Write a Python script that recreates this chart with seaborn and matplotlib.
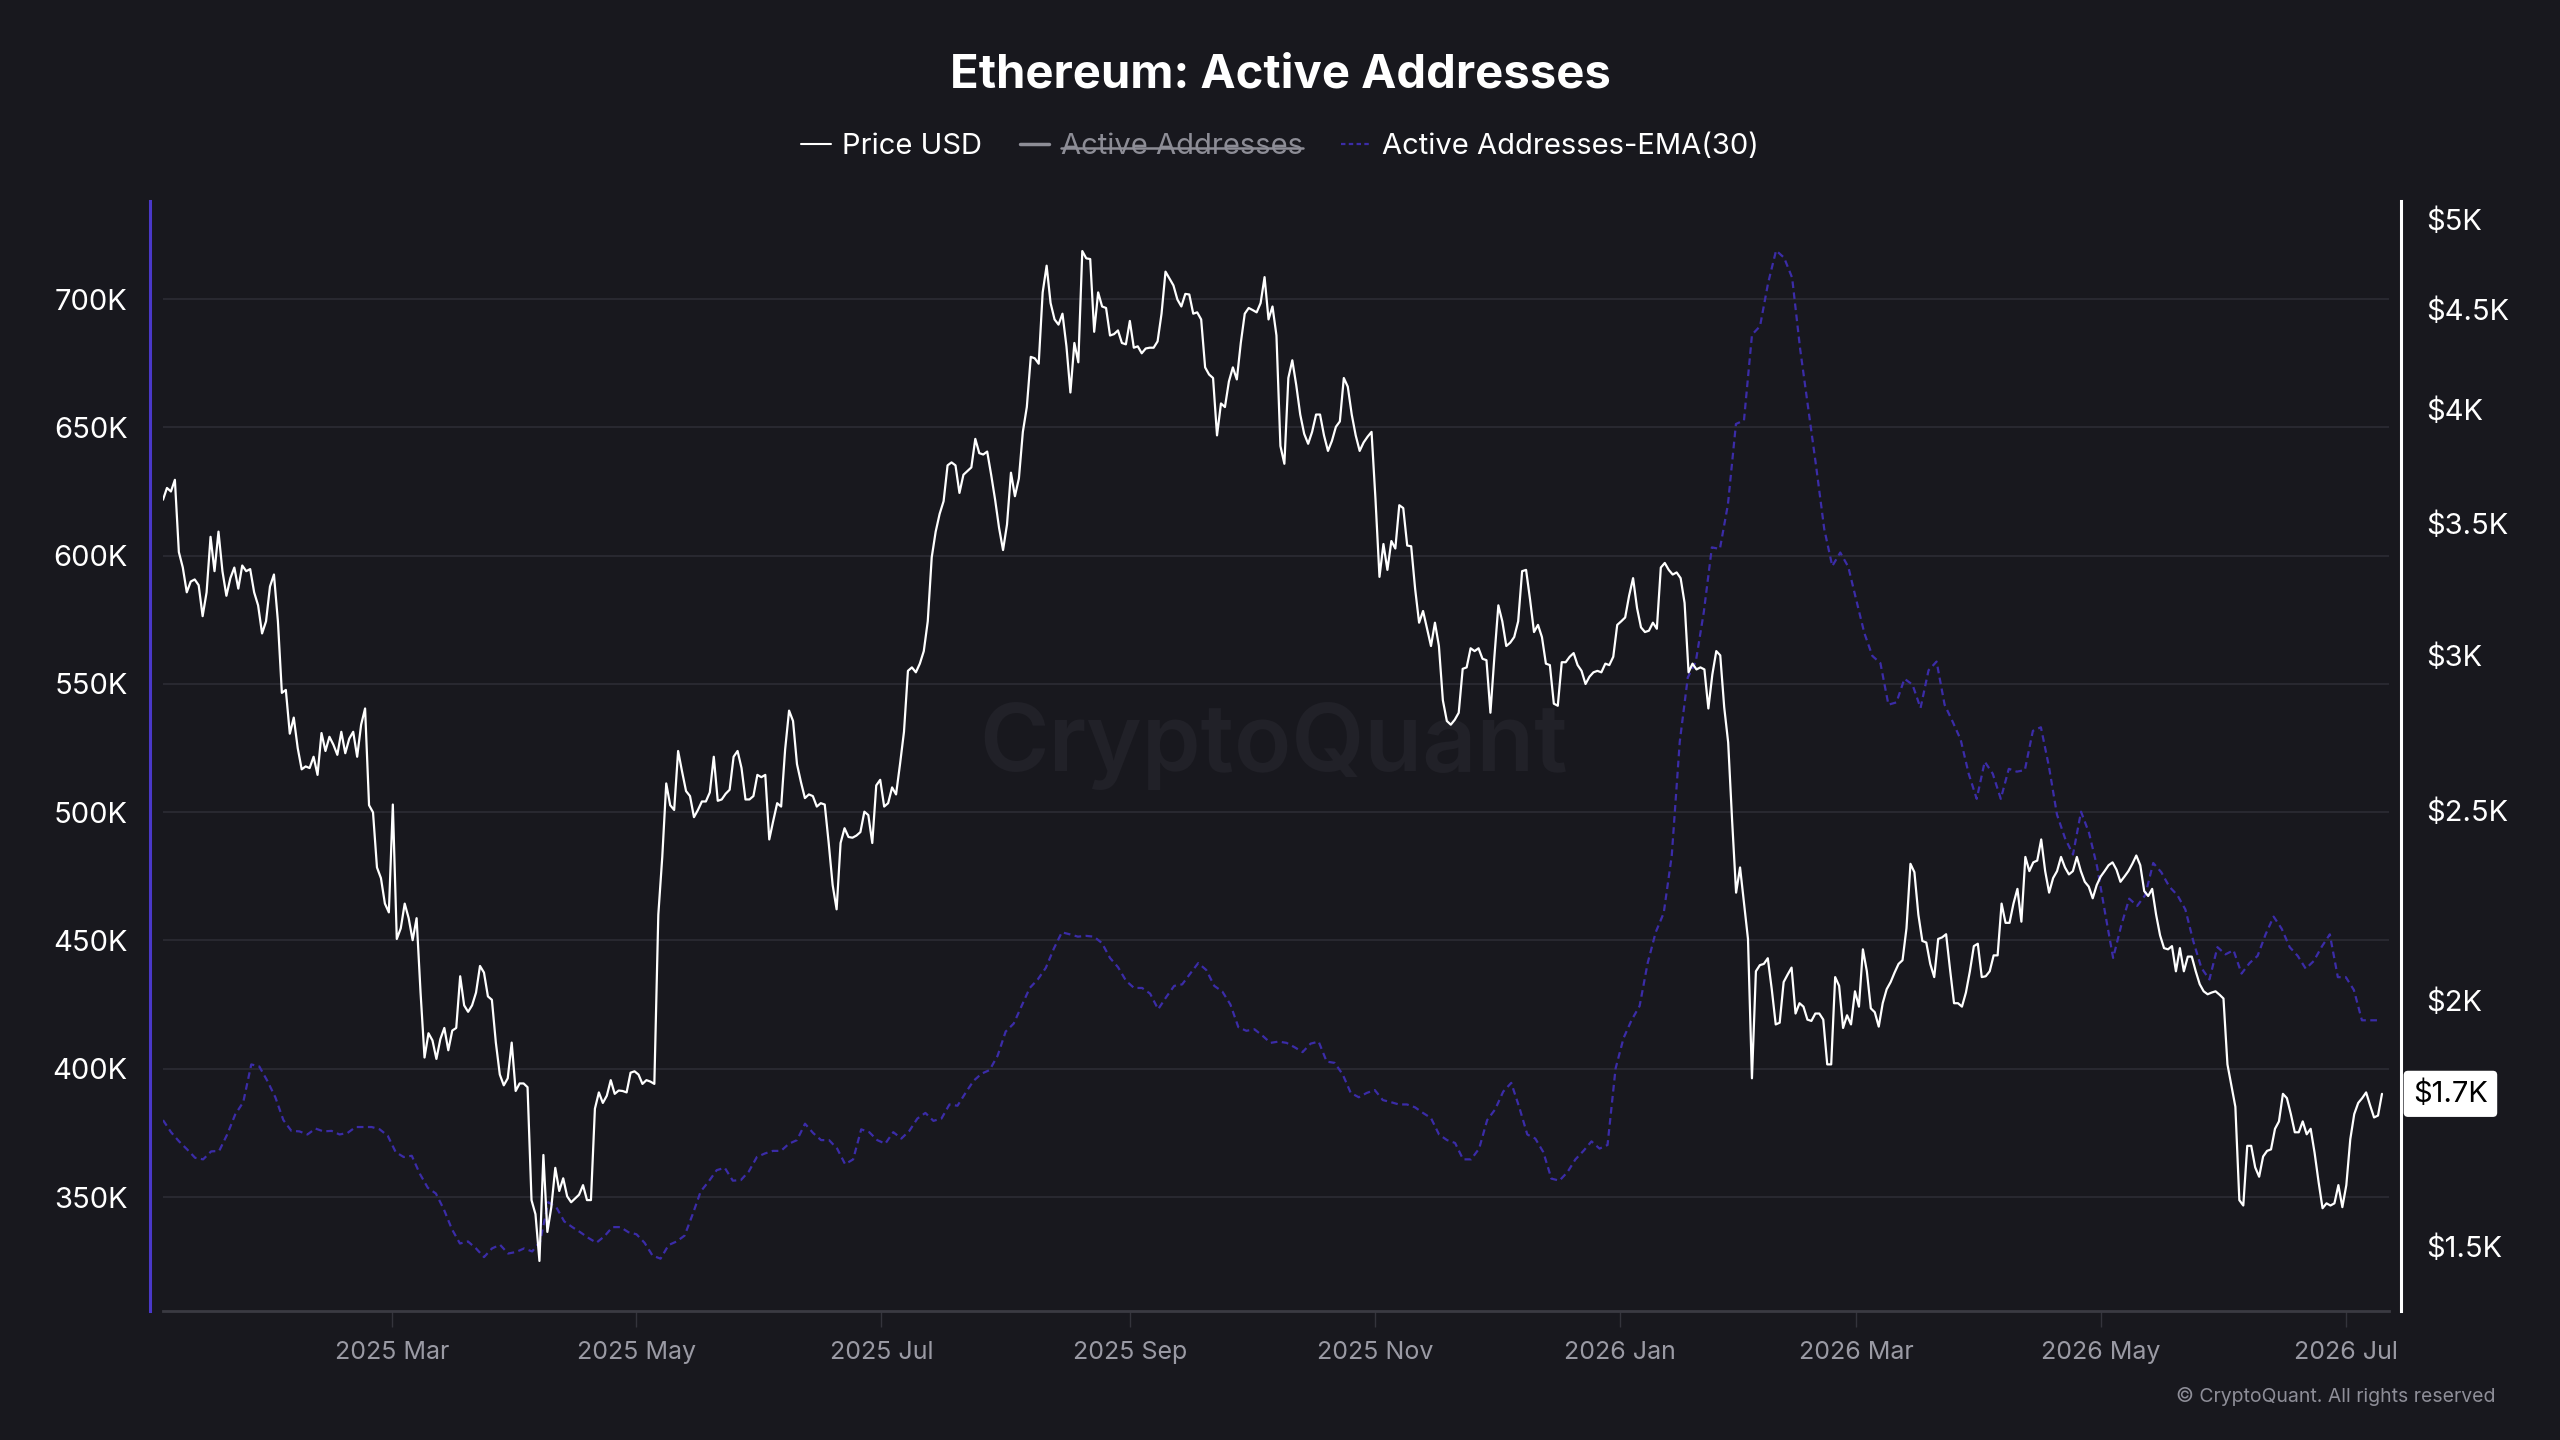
import pandas as pd
import matplotlib
matplotlib.use('Agg')
import matplotlib.pyplot as plt
import matplotlib.dates as mdates
import matplotlib.ticker as mticker
from matplotlib.lines import Line2D
import seaborn as sns

# ETH price (USD), roughly daily from 2025-01-03 to 2026-07-10
price_usd = [
    3598, 3648, 3633, 3683, 3384, 3323, 3228, 3269, 3277, 3255,
    3139, 3228, 3445, 3309, 3466, 3309, 3215, 3282, 3323, 3242,
    3331, 3309, 3317, 3228, 3179, 3076, 3120, 3250, 3296, 3120,
    2869, 2879, 2735, 2787, 2689, 2623, 2632, 2627, 2662, 2606,
    2737, 2680, 2725, 2700, 2668, 2741, 2673, 2719, 2741, 2662,
    2764, 2817, 2515, 2494, 2338, 2309, 2241, 2218, 2517, 2150,
    2177, 2241, 2203, 2147, 2203, 2019, 1871, 1925, 1909, 1868,
    1912, 1937, 1887, 1931, 1937, 2058, 1989, 1974, 1989, 2019,
    2083, 2067, 2010, 2002, 1904, 1834, 1811, 1826, 1904, 1799,
    1815, 1815, 1807, 1583, 1557, 1474, 1669, 1525, 1570, 1644,
    1600, 1624, 1590, 1579, 1586, 1593, 1611, 1583, 1583, 1762,
    1796, 1774, 1789, 1822, 1793, 1800, 1799, 1796, 1838, 1841,
    1834, 1814, 1822, 1819, 1814, 2212, 2367, 2580, 2515, 2501,
    2680, 2616, 2557, 2542, 2480, 2501, 2526, 2526, 2553, 2662,
    2528, 2532, 2549, 2561, 2662, 2680, 2627, 2532, 2532, 2542,
    2606, 2599, 2606, 2416, 2469, 2521, 2511, 2684, 2810, 2776,
    2639, 2584, 2536, 2547, 2542, 2511, 2521, 2517, 2406, 2290,
    2226, 2406, 2448, 2423, 2421, 2427, 2437, 2496, 2486, 2406,
    2574, 2591, 2511, 2521, 2568, 2547, 2639,
    2741, 2944, 2956, 2939, 2969, 3013, 3120, 3363, 3466, 3539,
    3592, 3746, 3759, 3746, 3627, 3705, 3721, 3737, 3864, 3800,
    3794, 3807, 3705, 3598, 3481, 3392, 3495, 3714, 3613, 3689,
    3896, 4011, 4254, 4247, 4220, 4588, 4734, 4531, 4445, 4418,
    4475, 4307, 4080, 4324, 4227, 4816, 4775, 4771, 4381, 4588,
    4513, 4505, 4362, 4369, 4388, 4324, 4317, 4437, 4300, 4307,
    4272, 4296, 4300, 4300, 4332, 4475, 4701, 4663, 4626, 4550,
    4513, 4580, 4577, 4475, 4482, 4445, 4202, 4167, 4150, 3880,
    4028, 4011, 4133, 4202, 4143, 4324, 4475, 4505, 4494, 4482,
    4531, 4671, 4445, 4513, 4362, 3832, 3753, 4150, 4237, 4115,
    3976, 3887, 3842, 3896, 3976, 3976, 3880, 3810, 3855, 3919,
    3944, 4150, 4108, 3976, 3880, 3810, 3848, 3874, 3896, 3598,
    3287, 3416, 3314, 3428, 3398, 3575, 3563, 3410, 3407, 3241,
    3115, 3158, 3093, 3031, 3115, 3031, 2844, 2776, 2764, 2780,
    2803, 2951, 2956, 3023, 3013, 3023, 2986, 2981, 2803, 2993,
    3179, 3120, 3031, 3043, 3063, 3120, 3309, 3314, 3201, 3081,
    3107, 3063, 2969, 2964, 2833, 2826, 2974, 2974, 2993, 3006,
    2964, 2944, 2899, 2924, 2939, 2944, 2939, 2969, 2964, 2993,
    3107, 3120, 3134, 3215, 3282, 3169, 3098,
    3081, 3086, 3115, 3093, 3323, 3341, 3314, 3296, 3304, 3282,
    3188, 2939, 2969, 2949, 2956, 2949, 2817, 2931, 3013, 2998,
    2821, 2707, 2469, 2270, 2338, 2241, 2150, 1826, 2070, 2085,
    2088, 2102, 2027, 1945, 1949, 2044, 2062, 2079, 1970, 1994,
    1986, 1956, 1953, 1970, 1970, 1956, 1856, 1856, 2056, 2035,
    1937, 1966, 1945, 2022, 1986, 2124, 2070, 1982, 1973, 1940,
    1994, 2027, 2044, 2067, 2088, 2097, 2177, 2348, 2325, 2212,
    2145, 2141, 2088, 2056, 2150, 2154, 2162, 2074, 1994, 1994,
    1986, 2019, 2070, 2132, 2138, 2056, 2058, 2070, 2109, 2109,
    2241, 2191, 2191, 2241, 2280, 2194, 2367, 2328, 2352, 2357,
    2416, 2328, 2270, 2309, 2328, 2367, 2338, 2319, 2328, 2367,
    2328, 2299, 2286, 2255, 2290, 2313, 2328, 2344, 2352, 2332,
    2299, 2313, 2328, 2348, 2371, 2344, 2274, 2261, 2280, 2212,
    2159, 2127, 2124, 2132, 2070, 2127, 2070, 2106, 2106, 2070,
    2039, 2022, 2015, 2019, 2022, 2014, 2005, 1856, 1811, 1766,
    1583, 1573, 1687, 1687, 1645, 1627, 1666, 1677, 1680, 1721,
    1736, 1793, 1784, 1751, 1714, 1714, 1736, 1710, 1721, 1673,
    1617, 1568, 1577, 1573, 1577, 1611, 1570, 1611, 1700, 1751,
    1774, 1784, 1796, 1769, 1744, 1748, 1793,
]

# Active Addresses EMA(30), thousands, every 2 days from 2025-01-03
ema_k = [
    380.0, 375.3, 371.7, 368.6, 365.3, 364.7, 367.8, 368.0, 374.4, 382.2,
    387.0, 401.7, 400.9, 395.3, 388.9, 380.0, 375.8, 375.6, 374.4, 376.7,
    375.6, 375.8, 374.4, 375.0, 377.3, 377.3, 377.3, 376.4, 373.9, 367.5,
    365.6, 366.1, 359.1, 353.6, 351.4, 345.2, 337.5, 331.9, 332.7, 330.0,
    326.6, 330.0, 331.4, 328.0, 328.6, 330.0, 328.8, 332.7, 348.0, 346.1,
    340.5, 338.3, 336.3, 334.1, 332.2, 334.7, 338.3, 338.3, 336.3, 335.5,
    332.2, 327.2, 326.0, 331.3, 332.7, 335.0, 343.3, 352.2, 356.1, 360.5,
    361.4, 356.4, 356.6, 360.0, 365.6, 367.0, 368.0, 368.0, 370.8, 372.2,
    378.6, 375.0, 372.2, 372.2, 368.9, 362.8, 364.7, 376.4, 375.3, 372.2,
    370.8, 375.3, 372.8, 375.8,
    380.6, 382.8, 379.7, 380.6, 386.1, 385.6, 390.6, 395.3, 398.1, 399.5,
    405.1, 414.5, 417.6, 424.5, 431.5, 434.8, 439.3, 446.8, 453.2, 452.4,
    451.5, 451.8, 451.5, 449.0, 443.2, 439.6, 434.3, 431.5, 431.5, 429.3,
    423.2, 427.9, 432.3, 432.9, 437.1, 441.2, 438.5, 432.3, 430.1, 425.1,
    416.2, 414.8, 415.4, 412.9, 410.1, 410.6, 410.1, 408.4, 406.5, 409.8,
    410.6, 402.8, 402.3, 397.8, 390.6, 388.9, 390.6, 391.7, 387.8, 387.0,
    386.1, 386.1, 385.0, 382.8, 380.8, 374.4, 372.2, 371.1, 364.7, 364.7,
    368.9, 380.0, 384.2, 391.1, 394.5, 385.0, 374.4, 372.8, 367.5, 357.2,
    356.4, 359.7, 364.7, 368.0, 371.7, 368.9, 370.3, 400.1, 412.0, 419.0,
    424.5,
    441.2, 453.2, 460.7, 483.0, 527.5, 552.5, 558.7, 578.1, 603.2, 602.6,
    619.9, 651.3, 652.7, 686.1, 689.4, 706.1, 718.9, 716.1, 708.3, 680.5,
    657.7, 634.6, 610.4, 595.9, 601.2, 595.6, 582.6, 569.8, 560.9, 558.1,
    541.9, 542.8, 552.0, 549.7, 540.6, 555.3, 558.7, 541.9, 535.3, 528.3,
    515.0, 505.2, 519.7, 515.0, 505.2, 516.9, 515.8, 516.4, 531.7, 533.1,
    517.8, 499.1, 489.9, 483.5, 500.2, 491.9, 478.8, 460.7, 443.2, 455.7,
    466.3, 463.5, 467.7, 480.2, 476.6, 471.0, 467.7, 462.1, 449.6, 439.3,
    434.8, 447.4, 444.6, 446.2, 437.1, 441.2, 444.0, 452.4, 459.3, 454.6,
    447.4, 444.0, 439.0, 442.0, 447.6, 452.4, 435.7, 435.7, 430.7, 418.9,
    418.9, 418.9,
]

price_dates = pd.date_range('2025-01-03', '2026-07-10', periods=len(price_usd))
ema_dates = pd.date_range('2025-01-03', periods=len(ema_k), freq='2D')

left_ticks_k = [350, 400, 450, 500, 550, 600, 650, 700]
right_ticks = [1500, 2000, 2500, 3000, 3500, 4000, 4500, 5000]
right_labels = ['$1.5K', '$2K', '$2.5K', '$3K', '$3.5K', '$4K', '$4.5K', '$5K']
legend_labels = ['Price USD', 'Active Addresses', 'Active Addresses-EMA(30)']

BG = '#18181e'
PURPLE = '#3b2ca8'
GRAY = '#9a9aa4'

sns.set_theme(style='dark', rc={'axes.facecolor': BG, 'figure.facecolor': BG,
                                'savefig.facecolor': BG})
plt.rcParams['font.family'] = ['Inter', 'DejaVu Sans']

W, H = 2560, 1440
fig = plt.figure(figsize=(25.6, 14.4), dpi=100)
ax = fig.add_axes([163 / W, 1 - 1311 / H, (2389 - 163) / W, (1311 - 201) / H])
ax2 = ax.twinx()

# EMA on the left axis
sns.lineplot(x=ema_dates, y=ema_k, ax=ax, color=PURPLE, linewidth=1.6)
ax.lines[-1].set_linestyle((0, (3, 2)))

# price on the right (log) axis
ax2.set_yscale('log')
sns.lineplot(x=price_dates, y=price_usd, ax=ax2, color='white', linewidth=1.6)

ax.set_xlim(pd.Timestamp('2025-01-03'), pd.Timestamp('2026-07-11 18:00'))
ax.set_ylim(305.6, 738.2)
ax2.set_ylim(1390, 5107)

ax.set_xlabel('')
ax.set_ylabel('')
ax2.set_xlabel('')
ax2.set_ylabel('')

ax.yaxis.set_major_locator(mticker.FixedLocator(left_ticks_k))
ax.yaxis.set_major_formatter(mticker.FuncFormatter(lambda v, p: f'{v:.0f}K'))
ax2.yaxis.set_major_locator(mticker.FixedLocator(right_ticks))
ax2.yaxis.set_minor_locator(mticker.NullLocator())
ax2.yaxis.set_major_formatter(mticker.FixedFormatter(right_labels))

ax.xaxis.set_major_locator(mdates.MonthLocator(bymonth=[1, 3, 5, 7, 9, 11]))
ax.xaxis.set_major_formatter(mdates.DateFormatter('%Y %b'))

ax.grid(axis='y', color='#2a2a32', linewidth=1.3)
ax.grid(axis='x', visible=False)
ax2.grid(False)
ax2.patch.set_visible(False)

# spine offsets are in points (100 dpi -> 0.72 pt per px)
for s in ['top', 'right']:
    ax.spines[s].set_visible(False)
ax.spines['left'].set_position(('outward', 9.4))
ax.spines['left'].set_color('#4a38c8')
ax.spines['left'].set_linewidth(2.2)
ax.spines['bottom'].set_color('#3a3a42')
ax.spines['bottom'].set_linewidth(2)
for s in ['top', 'left', 'bottom']:
    ax2.spines[s].set_visible(False)
ax2.spines['right'].set_position(('outward', 8.6))
ax2.spines['right'].set_color('white')
ax2.spines['right'].set_linewidth(2.2)

ax.tick_params(axis='y', left=False, length=0, pad=16, labelsize=21, labelcolor='white')
ax.tick_params(axis='x', bottom=True, length=11.5, width=1, color='#34343c',
               pad=10, labelsize=18, labelcolor=GRAY)
ax2.tick_params(axis='y', right=False, length=0, pad=18, labelsize=21, labelcolor='white')

# current price tag
last = price_usd[-1]
ax2.annotate(f'${int(last / 100) / 10:.1f}K', xy=(1, last), xycoords=('axes fraction', 'data'),
             xytext=(24, 0), textcoords='offset pixels', ha='left', va='center',
             fontsize=21, color='black', annotation_clip=False,
             bbox=dict(boxstyle='round,pad=0.32,rounding_size=0.15', fc='white', ec='none'))

# watermark
ax.text(0.4987, 0.509, 'CryptoQuant', transform=ax.transAxes, ha='center', va='center',
        fontsize=68, fontweight='semibold', color='#212128', zorder=0)

fig.text(0.5, 1 - 76 / H, 'Ethereum: Active Addresses', ha='center', va='center',
         fontsize=34, fontweight='bold', color='white')
fig.text(2496 / W, 1 - 1397 / H, '\u00a9 CryptoQuant. All rights reserved', ha='right',
         va='center', fontsize=14, color='#8e8e98')

handles = [Line2D([], [], color='white', linewidth=1.5),
           Line2D([], [], color='#8d8d96', linewidth=2.5),
           Line2D([], [], color=PURPLE, linewidth=1.6, linestyle=(0, (2, 1.5)))]
leg = fig.legend(handles, legend_labels, loc='center', bbox_to_anchor=(0.5, 1 - 147 / H),
                 ncol=3, frameon=False, fontsize=21, handlelength=1.0,
                 handletextpad=0.4, columnspacing=1.3)
for t, c in zip(leg.get_texts(), ['white', '#8d8d96', 'white']):
    t.set_color(c)

# strike through the hidden series
fig.canvas.draw()
bb = leg.get_texts()[1].get_window_extent()
ys = bb.y0 + bb.height * 0.47
p0 = fig.transFigure.inverted().transform((bb.x0, ys))
p1 = fig.transFigure.inverted().transform((bb.x1, ys))
fig.add_artist(Line2D([p0[0], p1[0]], [p0[1], p1[1]], color='#8d8d96', linewidth=1.8,
                      transform=fig.transFigure))

fig.savefig('out.png', dpi=100)
